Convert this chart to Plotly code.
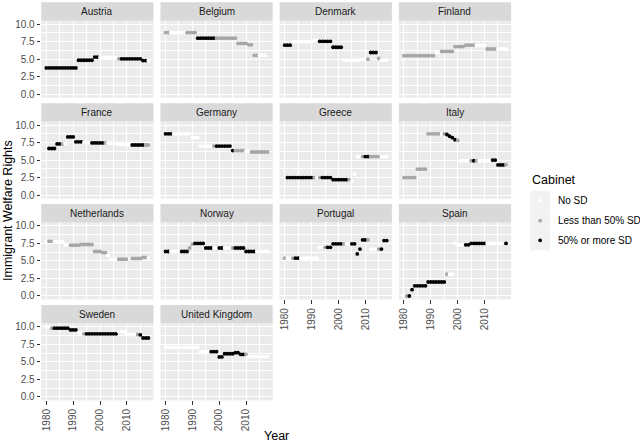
import plotly.graph_objects as go

# ---------------- data ----------------
YEARS = list(range(1980, 2019))
COUNTRIES = ["Austria", "Belgium", "Denmark", "Finland",
             "France", "Germany", "Greece", "Italy",
             "Netherlands", "Norway", "Portugal", "Spain",
             "Sweden", "United Kingdom"]
CABINET_LABELS = ["No SD", "Less than 50% SD", "50% or more SD"]
CABINET_COLORS = ["#FFFFFF", "#A6A6A6", "#000000"]
X_TICKS = [1980, 1990, 2000, 2010]
Y_TICKS = [0.0, 2.5, 5.0, 7.5, 10.0]
Y_TICK_LABELS = ["0.0", "2.5", "5.0", "7.5", "10.0"]

N = None
# cabinet code: 0 = No SD, 1 = Less than 50% SD, 2 = 50% or more SD
AUSTRIA_RIGHTS = [3.75, 3.75, 3.75, 3.75, 3.75, 3.75, 3.75, 3.75, 3.75, 3.75, 3.75, 3.75,
                  4.85, 4.85, 4.85, 4.85, 4.85, 4.85, 5.3, 5.3,
                  5.25, 5.25, 5.25, 5.25, 5.25, 5.25, 5.25,
                  5.05, 5.05, 5.05, 5.05, 5.05, 5.05, 5.05, 5.05, 5.05,
                  4.8, 4.8, 4.8]
AUSTRIA_CABINET = [2, 2, 2, 2, 2, 2, 2, 2, 2, 2, 2, 2,
                   2, 2, 2, 2, 2, 2, 2, 2,
                   0, 0, 0, 0, 0, 0, 0,
                   1, 2, 2, 2, 2, 2, 2, 2, 2,
                   2, 2, 0]

BELGIUM_RIGHTS = [8.8, 8.8, 8.8, 8.8, 8.8, 8.8, 8.8, 8.8, 8.8, 8.8, 8.8, 8.8,
                  8.0, 8.0, 8.0, 8.0, 8.0, 8.0, 8.0,
                  8.0, 8.0, 8.0, 8.0, 8.0, 8.0, 8.0, 8.0,
                  7.25, 7.25, 7.25, 7.25, 7.05, 7.05,
                  5.55, 5.55, 5.55, 5.55, 5.55, N]
BELGIUM_CABINET = [1, 1, 0, 0, 0, 0, 0, 0, 1, 1, 1, 1,
                   2, 2, 2, 2, 2, 2, 2,
                   1, 1, 1, 1, 1, 1, 1, 1,
                   1, 1, 1, 1, 1, 1,
                   1, 1, 0, 0, 0, N]

DENMARK_RIGHTS = [7.0, 7.0, 7.0, 7.5, 7.5, 7.5, 7.5, 7.5, 7.5, 7.5, 7.5, 7.7, 7.7,
                  7.55, 7.55, 7.55, 7.55, 7.55, 6.7, 6.7, 6.7, 6.7,
                  4.85, 4.85, 4.85, 4.85, 4.85, 4.85, 4.95, 4.95, 4.95,
                  5.0, 5.95, 5.95, 5.95, 5.1, 4.85, 4.85, 4.85]
DENMARK_CABINET = [2, 2, 2, 0, 0, 0, 0, 0, 0, 0, 0, 0, 0,
                   2, 2, 2, 2, 2, 2, 2, 2, 2,
                   0, 0, 0, 0, 0, 0, 0, 0, 0,
                   1, 2, 2, 2, 1, 0, 0, 0]

FINLAND_RIGHTS = [5.5, 5.5, 5.5, 5.5, 5.5, 5.5, 5.5, 5.5, 5.5, 5.5, 5.5, 5.5,
                  5.9, 5.9, 6.1, 6.1, 6.1, 6.1, 6.1,
                  6.8, 6.8, 6.8, 6.8, 7.0, 7.0, 7.0, 7.0,
                  6.95, 6.95, 6.95, 6.95, 6.45, 6.45, 6.45, 6.45,
                  6.45, 6.45, 6.45, 6.45]
FINLAND_CABINET = [1, 1, 1, 1, 1, 1, 1, 1, 1, 1, 1, 1,
                   0, 0, 1, 1, 1, 1, 1,
                   1, 1, 1, 1, 1, 1, 1, 1,
                   0, 0, 0, 0, 1, 1, 1, 1,
                   0, 0, 0, 0]

FRANCE_RIGHTS = [N, 6.65, 6.65, 6.65, 7.3, 7.3, 7.3, 7.35, 8.3, 8.3, 8.3,
                 7.6, 7.6, 7.6, 7.5, 7.5, 7.5, 7.45, 7.45, 7.45, 7.45, 7.45, 7.45,
                 7.4, 7.4, 7.4, 7.4, 7.2, 7.2, 7.2, 7.2, 7.2,
                 7.15, 7.15, 7.15, 7.15, 7.15, 7.15, 7.15]
FRANCE_CABINET = [N, 2, 2, 2, 2, 2, 1, 0, 2, 2, 2,
                  2, 2, 2, 0, 0, 0, 2, 2, 2, 2, 2, 1,
                  0, 0, 0, 0, 0, 0, 0, 0, 0,
                  2, 2, 2, 2, 2, 1, 1]

GERMANY_RIGHTS = [8.75, 8.75, 8.75, 8.75, 8.75, 8.75, 8.75, 8.75, 8.75, 8.75,
                  8.2, 8.2, 8.2, 7.0, 7.0, 7.0, 7.0, 7.0, 7.0,
                  7.0, 7.0, 7.0, 7.0, 7.0, 7.0, 6.35, 6.35, 6.35, 6.35, 6.35,
                  6.25, 6.25, 6.15, 6.15, 6.15, 6.15, 6.15, 6.15, 6.15]
GERMANY_CABINET = [2, 2, 2, 0, 0, 0, 0, 0, 0, 0,
                   0, 0, 0, 0, 0, 0, 0, 0, 1,
                   2, 2, 2, 2, 2, 2, 2, 1, 1, 1, 1,
                   0, 0, 1, 1, 1, 1, 1, 1, 1]

GREECE_RIGHTS = [N, 2.5, 2.5, 2.5, 2.5, 2.5, 2.5, 2.5, 2.5, 2.5, 2.5,
                 2.5, 2.5, 2.5, 2.5, 2.5, 2.5, 2.5,
                 2.2, 2.2, 2.2, 2.2, 2.2, 2.2, 2.2, 2.0, 3.0,
                 5.5, 5.5, 5.5, 5.5, 5.5, 5.5, 5.5, 5.5, 5.5, 5.5, 5.5, 5.5]
GREECE_CABINET = [N, 2, 2, 2, 2, 2, 2, 2, 2, 2, 2,
                  1, 0, 1, 2, 2, 2, 2,
                  2, 2, 2, 2, 2, 2, 1, 0, 0,
                  0, 0, 1, 2, 2, 1, 1, 1, 1, 0, 0, 0]

ITALY_RIGHTS = [2.5, 2.5, 2.5, 2.5, 2.5, 3.7, 3.7, 3.7, 3.7,
                8.75, 8.75, 8.75, 8.75, 8.75, 8.75, 8.75, 8.65, 8.4, 8.2, 7.9, 7.8,
                4.9, 4.9, 4.9, 4.9, 4.9, 4.9, 4.9, 4.9, 4.9, 4.9, 4.9, 4.9,
                5.0, 5.0, 4.3, 4.3, 4.3, 4.35]
ITALY_CABINET = [1, 1, 1, 1, 1, 1, 1, 1, 1,
                 1, 1, 1, 1, 1, 0, 1, 2, 2, 2, 2, 1,
                 0, 0, 0, 0, 1, 2, 1, 0, 0, 0, 0, 0,
                 2, 2, 2, 2, 2, 1]

NETHERLANDS_RIGHTS = [7.8, 7.8, 7.8, 7.75, 7.75, 7.75, 7.75, 7.3, 7.3,
                      7.25, 7.25, 7.25, 7.25, 7.35, 7.35, 7.35, 7.35, 7.35,
                      6.35, 6.35, 6.35, 6.2, 6.2, 5.8, 5.2, 5.2, 5.2,
                      5.25, 5.25, 5.25, 5.25, 5.3, 5.35, 5.35, 5.35, 5.35,
                      5.5, 5.5, 5.45]
NETHERLANDS_CABINET = [0, 1, 1, 0, 0, 0, 0, 0, 0,
                       1, 1, 1, 1, 1, 1, 1, 1, 1,
                       1, 1, 1, 1, 1, 0, 0, 0, 0,
                       1, 1, 1, 1, 0, 1, 1, 1, 1,
                       1, 1, 0]

NORWAY_RIGHTS = [6.35, 6.35, 6.35, 6.35, 6.35, 6.35, 6.35, 6.35, 6.35, 6.85, 7.4,
                 7.5, 7.5, 7.5, 7.5, 6.85, 6.85, 6.85, 6.85, 6.85, 6.85, 6.85,
                 6.85, 6.85, 6.85, 6.85, 6.85, 6.85, 6.85, 6.85,
                 6.35, 6.35, 6.35, 6.35, 6.35, 6.35, 6.35, 6.35, 6.35]
NORWAY_CABINET = [2, 2, 0, 0, 0, 0, 2, 2, 2, 1, 1,
                  2, 2, 2, 2, 2, 2, 2, 0, 0, 2, 2,
                  0, 0, 0, 1, 2, 2, 2, 2,
                  2, 2, 2, 2, 0, 0, 0, 0, 0]

PORTUGAL_RIGHTS = [5.4, 5.4, 5.4, 5.4, 5.4, 5.4, 5.4, 5.4, 5.4, 5.4, 5.4, 5.4, 5.4,
                   6.95, 6.95, 6.95, 6.95, 6.95, 7.45, 7.45, 7.45, 7.45, 7.45,
                   7.45, 7.45, 7.45, 7.45, 6.0, 6.7, 8.0, 8.0, 8.0,
                   6.7, 6.7, 6.7, 6.7, 6.7, 7.9, 7.9]
PORTUGAL_CABINET = [1, 0, 0, 1, 2, 2, 0, 0, 0, 0, 0, 0, 0,
                    0, 0, 1, 2, 2, 2, 2, 2, 2, 1,
                    0, 0, 2, 2, 2, 2, 2, 2, 1,
                    0, 0, 0, 1, 2, 2, 2]

SPAIN_RIGHTS = [0.1, 0.0, 0.0, 0.9, 1.45, 1.45, 1.45, 1.45, 1.45,
                2.0, 2.0, 2.0, 2.0, 2.0, 2.0, 2.0, 3.1, 3.1, 3.1,
                7.55, 7.3, 7.3, 7.3, 7.3, 7.3, 7.5, 7.5, 7.5, 7.5, 7.5, 7.5,
                7.5, 7.5, 7.5, 7.5, 7.5, 7.5, N, 7.5]
SPAIN_CABINET = [0, 1, 2, 2, 2, 2, 2, 2, 2,
                 2, 2, 2, 2, 2, 2, 2, 1, 0, 0,
                 0, 0, 0, 0, 2, 2, 2, 2, 2, 2, 2, 2,
                 0, 0, 0, 0, 0, 0, N, 2]

SWEDEN_RIGHTS = [10.0, 10.0, 9.8, 9.8, 9.8, 9.8, 9.8, 9.8, 9.8, 9.55, 9.55, 9.55,
                 9.15, 9.15, 9.0, 9.0, 9.0, 9.0, 9.0, 9.0, 9.0, 9.0, 9.0, 9.0, 9.0,
                 9.0, 9.0, 9.3, 9.3, 9.3, 8.9, 8.9, 8.9, 8.9, 8.9, 8.85,
                 8.4, 8.4, 8.4]
SWEDEN_CABINET = [0, 0, 1, 2, 2, 2, 2, 2, 2, 2, 2, 2,
                  0, 0, 1, 2, 2, 2, 2, 2, 2, 2, 2, 2, 2,
                  2, 2, 0, 0, 0, 0, 0, 0, 0, 1, 2,
                  2, 2, 2]

UK_RIGHTS = [7.05, 7.05, 7.05, 7.05, 7.05, 7.05, 7.05, 7.05, 7.05, 7.05, 7.05, 7.05, 7.05,
             6.45, 6.45, 6.45, 6.45, 6.45, 6.45, 6.45, 5.7, 5.7,
             6.15, 6.15, 6.15, 6.15, 6.3, 6.3, 6.05, 6.05, 6.05,
             5.75, 5.75, 5.75, 5.75, 5.75, 5.75, 5.75, 5.75]
UK_CABINET = [0, 0, 0, 0, 0, 0, 0, 0, 0, 0, 0, 0, 0,
              0, 0, 0, 0, 2, 2, 2, 2, 2,
              2, 2, 2, 2, 2, 2, 2, 2, 1,
              0, 0, 0, 0, 0, 0, 0, 0]

RIGHTS = [AUSTRIA_RIGHTS, BELGIUM_RIGHTS, DENMARK_RIGHTS, FINLAND_RIGHTS,
          FRANCE_RIGHTS, GERMANY_RIGHTS, GREECE_RIGHTS, ITALY_RIGHTS,
          NETHERLANDS_RIGHTS, NORWAY_RIGHTS, PORTUGAL_RIGHTS, SPAIN_RIGHTS,
          SWEDEN_RIGHTS, UK_RIGHTS]
CABINETS = [AUSTRIA_CABINET, BELGIUM_CABINET, DENMARK_CABINET, FINLAND_CABINET,
            FRANCE_CABINET, GERMANY_CABINET, GREECE_CABINET, ITALY_CABINET,
            NETHERLANDS_CABINET, NORWAY_CABINET, PORTUGAL_CABINET, SPAIN_CABINET,
            SWEDEN_CABINET, UK_CABINET]

# ---------------- layout geometry (pixels) ----------------
W, H = 640, 444
FONT = "Liberation Sans, Arial, Helvetica, sans-serif"
SMALL = 10.0
BIG = 12.5
PANEL_X0, PANEL_W, COL_STEP = 40.3, 112.4, 119.4
PANEL_Y0, PANEL_H, ROW_STEP = 18.8, 77.8, 101.8
STRIP_H = 18.5


def px(x):
    return x / W


def py(y):
    return 1 - y / H


fig = go.Figure()
layout = dict(shapes=[], annotations=[])

for i, name in enumerate(COUNTRIES):
    r, c = divmod(i, 4)
    x0 = PANEL_X0 + c * COL_STEP
    x1 = x0 + PANEL_W
    y0 = PANEL_Y0 + r * ROW_STEP
    y1 = y0 + PANEL_H
    sfx = "" if i == 0 else str(i + 1)
    xs, ys, cols = [], [], []
    for yr, v, cab in zip(YEARS, RIGHTS[i], CABINETS[i]):
        if v is None:
            continue
        xs.append(yr)
        ys.append(v)
        cols.append(CABINET_COLORS[cab])
    fig.add_trace(go.Scatter(
        x=xs, y=ys, mode="markers", xaxis="x" + sfx, yaxis="y" + sfx,
        marker=dict(size=3.8, color=cols, line=dict(width=0)),
        showlegend=False, hoverinfo="x+y"))

    bottom = i >= 10
    left = c == 0
    layout["xaxis" + sfx] = dict(
        domain=[px(x0), px(x1)], anchor="y" + sfx, range=[1978.1, 2019.9],
        tickmode="array", tickvals=X_TICKS, ticktext=[str(t) for t in X_TICKS],
        showticklabels=bottom, ticks="outside" if bottom else "",
        ticklen=3.6, tickwidth=1, tickcolor="#333333", tickangle=-90,
        tickfont=dict(family=FONT, size=SMALL, color="#4D4D4D"),
        showgrid=True, gridcolor="#FFFFFF", gridwidth=1.1, zeroline=False,
        showline=False, fixedrange=True,
        minor=dict(tickmode="array", tickvals=[1985, 1995, 2005, 2015],
                   showgrid=True, gridcolor="#FFFFFF", gridwidth=0.55, ticks=""))
    layout["yaxis" + sfx] = dict(
        domain=[py(y1), py(y0)], anchor="x" + sfx, range=[-0.5, 10.5],
        tickmode="array", tickvals=Y_TICKS, ticktext=Y_TICK_LABELS,
        showticklabels=left, ticks="outside" if left else "",
        ticklen=3.6, tickwidth=1, tickcolor="#333333",
        tickfont=dict(family=FONT, size=SMALL, color="#4D4D4D"),
        showgrid=True, gridcolor="#FFFFFF", gridwidth=1.1, zeroline=False,
        showline=False, fixedrange=True,
        minor=dict(tickmode="array", tickvals=[1.25, 3.75, 6.25, 8.75],
                   showgrid=True, gridcolor="#FFFFFF", gridwidth=0.55, ticks=""))
    # strip
    layout["shapes"].append(dict(
        type="rect", xref="paper", yref="paper", layer="below",
        x0=px(x0), x1=px(x1), y0=py(y0), y1=py(y0 - STRIP_H),
        fillcolor="#D9D9D9", line=dict(width=0)))
    layout["annotations"].append(dict(
        text=name, xref="paper", yref="paper", showarrow=False,
        x=px((x0 + x1) / 2), y=py(y0 - STRIP_H / 2),
        xanchor="center", yanchor="middle",
        font=dict(family=FONT, size=SMALL, color="#1A1A1A")))

# axis titles
layout["annotations"].append(dict(
    text="Immigrant Welfare Rights", xref="paper", yref="paper", showarrow=False,
    x=px(6.5), y=py(210.4), textangle=-90, xanchor="center", yanchor="middle",
    font=dict(family=FONT, size=BIG, color="#000000")))
layout["annotations"].append(dict(
    text="Year", xref="paper", yref="paper", showarrow=False,
    x=px(275.6), y=py(438.3), xanchor="center", yanchor="middle",
    font=dict(family=FONT, size=BIG, color="#000000")))

# legend (drawn manually, ggplot style)
layout["annotations"].append(dict(
    text="Cabinet", xref="paper", yref="paper", showarrow=False,
    x=px(529.5), y=py(179.3), xanchor="left", yanchor="middle",
    font=dict(family=FONT, size=BIG, color="#000000")))
for k, lab in enumerate(CABINET_LABELS):
    cy = 200.5 + 20 * k
    layout["shapes"].append(dict(
        type="rect", xref="paper", yref="paper",
        x0=px(530), x1=px(550), y0=py(cy + 10), y1=py(cy - 10),
        fillcolor="#F2F2F2", line=dict(width=0)))
    layout["shapes"].append(dict(
        type="circle", xref="paper", yref="paper",
        x0=px(540 - 1.9), x1=px(540 + 1.9), y0=py(cy + 1.9), y1=py(cy - 1.9),
        fillcolor=CABINET_COLORS[k], line=dict(width=0)))
    layout["annotations"].append(dict(
        text=lab, xref="paper", yref="paper", showarrow=False,
        x=px(556), y=py(cy), xanchor="left", yanchor="middle",
        font=dict(family=FONT, size=SMALL, color="#000000")))

fig.update_layout(
    width=W, height=H, margin=dict(l=0, r=0, t=0, b=0),
    paper_bgcolor="#FFFFFF", plot_bgcolor="#EBEBEB",
    showlegend=False, font=dict(family=FONT),
    **layout)

fig.write_html(
    "out.html",
    config={"displayModeBar": False},
    post_script="document.body.style.margin='0';"
                "document.body.style.padding='0';"
                "document.body.style.overflow='hidden';")
